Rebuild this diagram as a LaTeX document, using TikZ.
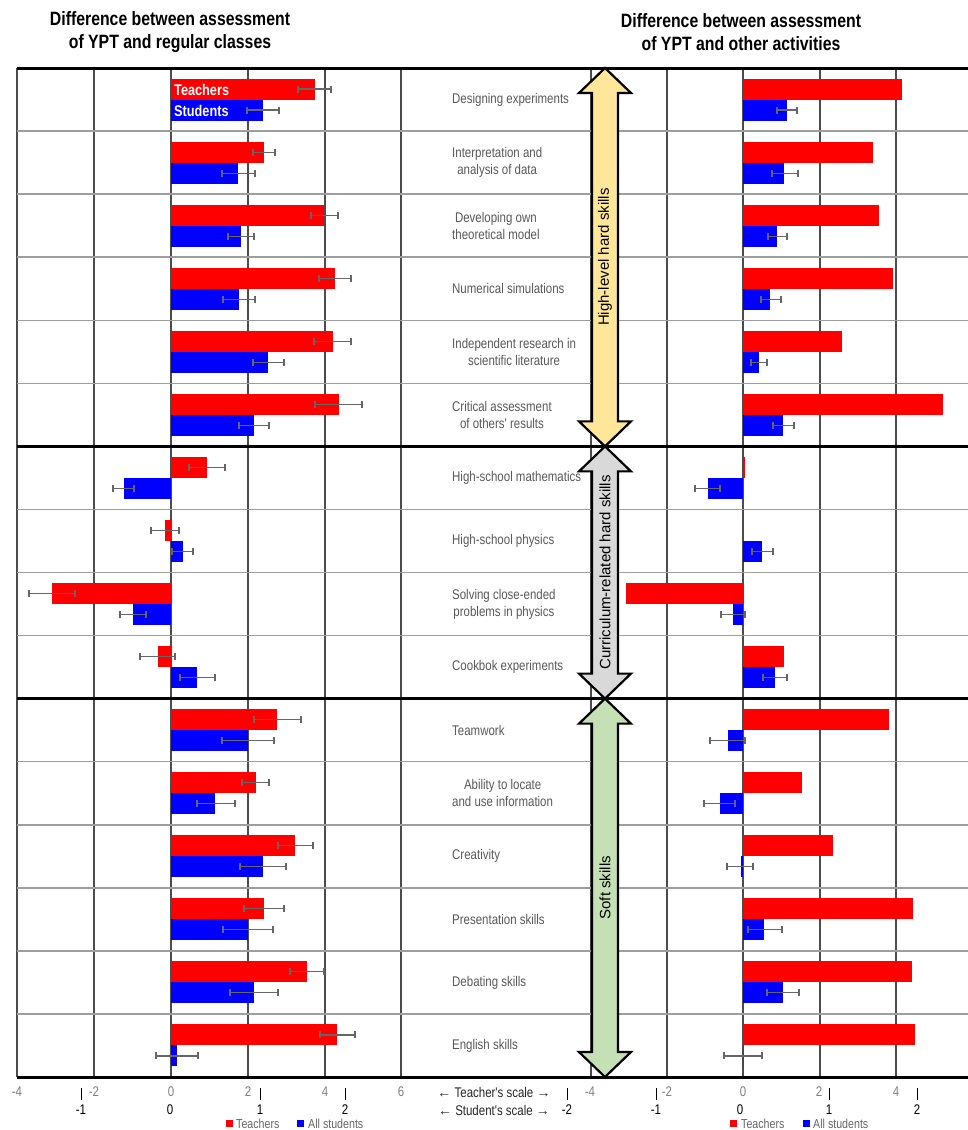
\documentclass[tikz,border=0pt]{standalone}
\usepackage{fontspec}
\setmainfont{Liberation Sans}
\newfontfamily\nar[FakeStretch=0.82]{Liberation Sans}
\newfontfamily\wid{Liberation Sans}
\definecolor{barred}{HTML}{FF0000}
\definecolor{barblue}{HTML}{0000FF}
\definecolor{arryellow}{HTML}{FFE699}
\definecolor{arrgray}{HTML}{D9D9D9}
\definecolor{arrgreen}{HTML}{C5E0B4}
\definecolor{labgray}{HTML}{595959}
\definecolor{numgray}{HTML}{808080}
\tikzset{
  vgrid/.style={draw=black!70, line width=1.2pt},
  hgrid/.style={draw=black!38, line width=1.5pt},
  hthick/.style={draw=black, line width=3pt},
  errbar/.style={draw=black!60, line width=1.1pt},
  redbar/.style={fill=barred},
  bluebar/.style={fill=barblue},
  rowlab/.style={anchor=west, align=center, text=labgray, inner sep=0pt, font=\nar\fontsize{14}{17}\selectfont},
  titlelab/.style={align=center, inner sep=0pt, font=\nar\bfseries\fontsize{19.3}{23}\selectfont},
  tnum/.style={text=numgray, inner sep=0pt, font=\nar\fontsize{14}{16}\selectfont},
  snum/.style={text=black, inner sep=0pt, font=\nar\fontsize{14}{16}\selectfont},
  scalelab/.style={text=black!85, inner sep=0pt, font=\nar\fontsize{14}{16}\selectfont},
  leglab/.style={text=black!60, anchor=west, inner sep=0pt, font=\nar\fontsize{13}{15}\selectfont},
  barlab/.style={text=white, anchor=west, inner sep=0pt, font=\nar\bfseries\fontsize{15.5}{18}\selectfont},
  arrlab/.style={rotate=90, inner sep=0pt, font=\fontsize{15}{18}\selectfont},
  sticks/.style={draw=black, line width=1pt},
}
\newcommand\dblarrow[5]{%
  \draw[line width=2.2pt, line join=miter, fill=#3]
    (605,#1) -- (631,#1+25) -- (618,#1+25) -- (618,#2-25) -- (631,#2-25) -- (605,#2)
    -- (579,#2-25) -- (592,#2-25) -- (592,#1+25) -- (579,#1+25) -- cycle;
  \node[arrlab] (#5) at (605,{(#1+#2)/2}) {#4};
}
\newcommand\errh[3]{% lo hi y
  \draw[errbar] (#1,#3) -- (#2,#3);
  \draw[errbar] (#1,#3-3.5) -- (#1,#3+3.5);
  \draw[errbar] (#2,#3-3.5) -- (#2,#3+3.5);
}
\begin{document}
\begin{tikzpicture}[x=1pt,y=-1pt]
\useasboundingbox (0,0) rectangle (968,1130);
\fill[white] (0,0) rectangle (968,1130);

% titles
\node[titlelab] (titleL) at (170,32) {Difference between assessment\\of YPT and regular classes};
\node[titlelab] (titleR) at (741,32) {Difference between assessment\\of YPT and other activities};

% vertical grid
\foreach \x in {17,94,171,248,325,401,591,667,743,820,896}
  \draw[vgrid] (\x,68) -- (\x,1077);

% horizontal grid
\foreach \i in {1,2,3,4,5,7,8,9,11,12,13,14,15}
  \draw[hgrid] (17,{68+63.0625*\i}) -- (968,{68+63.0625*\i});
\foreach \yy in {68,446.375,698.625,1077}
  \draw[hthick] (17,\yy) -- (968,\yy);

% left chart bars
\foreach \i/\r/\rl/\rh/\b/\bl/\bh in {
  1/315/298/331/263/247/279,
  2/264/253/275/238/222/255,
  3/324/311/338/241/228/254,
  4/335/319/351/239/223/255,
  5/333/314/351/268/253/284,
  6/339/315/362/254/239/269,
  7/207/189/225/124/113/134,
  8/165/151/179/183/172/193,
  9/52/29/75/133/120/146,
  10/158/140/175/197/180/215,
  11/277/254/301/248/222/274,
  12/256/242/269/215/197/235,
  13/295/278/313/263/240/286,
  14/264/244/284/248/223/273,
  15/307/290/324/254/230/278,
  16/337/320/355/177/156/198}{
  \pgfmathsetmacro\yt{68+63.0625*(\i-1)}
  \fill[redbar] (171,\yt+10.5) rectangle (\r,\yt+31.5);
  \fill[bluebar] (171,\yt+31.5) rectangle (\b,\yt+52.5);
  \errh{\rl}{\rh}{\yt+21}
  \errh{\bl}{\bh}{\yt+42}
}

% right chart bars
\foreach \i/\r/\b/\bl/\bh in {
  1/902/787/777/797,
  2/873/784/772/798,
  3/879/777/768/787,
  4/893/770/761/781,
  5/842/759/751/767,
  6/943/783/773/794,
  7/745/708/695/720,
  8/743/762/752/773,
  9/626/733/721/745,
  10/784/775/763/787,
  11/889/728/710/745,
  12/802/720/704/735,
  13/833/741/727/753,
  14/913/764/748/782,
  15/912/783/767/799,
  16/915/743/724/762}{
  \pgfmathsetmacro\yt{68+63.0625*(\i-1)}
  \fill[redbar] (743,\yt+10.5) rectangle (\r,\yt+31.5);
  \fill[bluebar] (743,\yt+31.5) rectangle (\b,\yt+52.5);
  \errh{\bl}{\bh}{\yt+42}
}

% bar labels in first row
\node[barlab] (tlab) at (174,89.5) {Teachers};
\node[barlab] (slab) at (174,111) {Students};

% row labels
\foreach \i/\t in {
  1/{Designing experiments},
  2/{Interpretation and\\analysis of data},
  3/{Developing own\\theoretical model},
  4/{Numerical simulations},
  5/{Independent research in\\scientific literature},
  6/{Critical assessment\\of others' results},
  7/{High-school mathematics},
  8/{High-school physics},
  9/{Solving close-ended\\problems in physics},
  10/{Cookbok experiments},
  11/{Teamwork},
  12/{Ability to locate\\and use information},
  13/{Creativity},
  14/{Presentation skills},
  15/{Debating skills},
  16/{English skills}}{
  \node[rowlab] (row\i) at (452,{68+63.0625*(\i-0.5)}) {\t};
}

% category arrows
\dblarrow{68}{446.375}{arryellow}{High-level hard skills}{cat1}
\dblarrow{446.375}{698.625}{arrgray}{Curriculum-related hard skills}{cat2}
\dblarrow{698.625}{1077}{arrgreen}{Soft skills}{cat3}

% teacher scale numbers
\foreach \x/\t [count=\k] in {17/-4,94/-2,171/0,248/2,325/4,401/6,590/-4,667/-2,743/0,819/2,896/4}
  \node[tnum] (tn\k) at (\x,1092) {\t};

% student scale ticks and numbers
\foreach \x [count=\k] in {81,260,345,567,656,829,917}
  \draw[sticks] (\x,1088) -- (\x,1100);
\foreach \x/\t [count=\k] in {81/-1,170/0,260/1,345/2,567/-2,656/-1,740/0,829/1,917/2}
  \node[snum] (sn\k) at (\x,1110) {\t};

\node[scalelab] (tscale) at (494,1092) {{\wid←} Teacher's scale {\wid→}};
\node[scalelab] (sscale) at (494,1110) {{\wid←} Student's scale {\wid→}};

% legends
\fill[barred] (226,1120) rectangle (233,1127);
\node[leglab] (legTL) at (236,1123.5) {Teachers};
\fill[barblue] (297,1120) rectangle (304,1127);
\node[leglab] (legSL) at (308,1123.5) {All students};
\fill[barred] (730,1120) rectangle (737,1127);
\node[leglab] (legTR) at (741,1123.5) {Teachers};
\fill[barblue] (803,1120) rectangle (810,1127);
\node[leglab] (legSR) at (813,1123.5) {All students};
\end{tikzpicture}
\end{document}
